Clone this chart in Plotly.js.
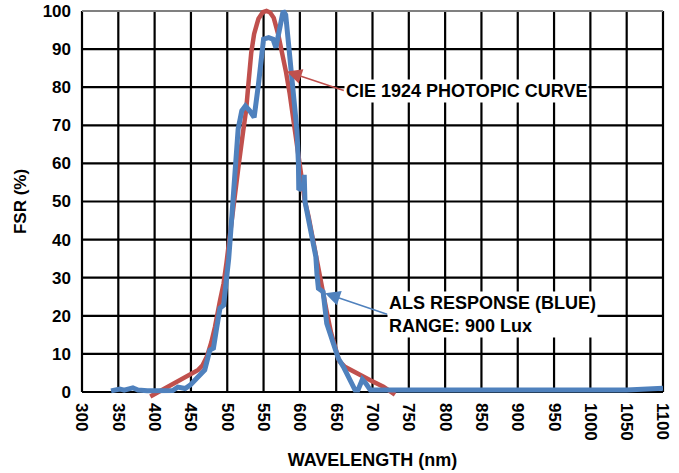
<!DOCTYPE html>
<html>
<head>
<meta charset="utf-8">
<script src="https://cdn.plot.ly/plotly-3.0.1.min.js"></script>
<style>html,body{margin:0;padding:0;background:#fff;}#chart{width:679px;height:473px;}</style>
</head>
<body>
<div id="chart"></div>
<script>
// CIE 1924 photopic curve (red)
const cieX = [394, 460, 466, 472, 478, 483, 490, 495, 499, 504, 510, 516, 522, 526, 529, 533, 537, 543, 549, 554, 559, 564, 570, 577, 581, 586, 593, 598, 603, 607, 612, 616, 621, 625, 630, 637, 643, 649, 654, 662, 678, 697, 715, 731];
const cieY = [-1.2, 5.8, 7, 9.3, 13, 17, 24, 28.5, 34, 41, 50, 60, 68.6, 74, 80.5, 89, 94, 98, 99.7, 100, 99.6, 98.2, 94, 87.8, 83.9, 78.3, 68.6, 60.5, 54, 50, 46, 42, 36.5, 31.5, 27.6, 21, 15.5, 11, 8.2, 6.6, 4.9, 3.1, 1.4, -0.7];
// ALS response (blue)
const alsX = [340, 346, 352, 358, 364, 370, 377, 390, 425, 432, 442, 449, 458, 469, 476, 481, 485, 490, 495, 499, 502, 504, 508, 512, 515, 520, 525, 531, 537, 543, 550, 557, 563, 567, 573, 577, 580.5, 584, 589, 593, 596, 598, 598.5, 605, 606, 607, 612, 617, 622, 623.5, 625.5, 632, 637, 646, 653, 660, 667, 676, 680, 686, 691, 697, 1050, 1100];
const alsY = [0.3, 0.6, 0.8, 0.5, 0.8, 1.1, 0.5, 0.3, 0.4, 1.3, 0.9, 1.8, 3.6, 5.8, 11, 11.5, 16.3, 22, 22.8, 28.5, 35, 40, 50, 60, 69, 73.8, 75.1, 73.8, 72.1, 80.8, 92.6, 93, 92.6, 90.4, 95.6, 100, 99, 92, 84, 76.4, 68.6, 60, 53, 54, 57, 50, 45, 40, 35.5, 31, 27.2, 26.3, 18, 12.8, 8.8, 6.6, 3.6, 0.5, 0.5, 3.3, 2.2, 0.5, 0.5, 1];
// Ticks
const xTicks = [300, 350, 400, 450, 500, 550, 600, 650, 700, 750, 800, 850, 900, 950, 1000, 1050, 1100];
const yTicks = [0, 10, 20, 30, 40, 50, 60, 70, 80, 90, 100];
const xTitle = 'WAVELENGTH (nm)';
const yTitle = 'FSR (%)';
const cieLabel = 'CIE 1924 PHOTOPIC CURVE';
const alsLabel = 'ALS RESPONSE (BLUE)<br>RANGE: 900 Lux';

const RED = '#C0504D', BLUE = '#4F81BD';
const FONT = 'Liberation Sans, Arial, Helvetica, sans-serif';

const shapes = [];
xTicks.forEach(v => shapes.push({type:'line', xref:'x', yref:'y', x0:v, x1:v, y0:yTicks[0], y1:yTicks[yTicks.length-1], line:{color:'#000', width:2.2}, layer:'below'}));
yTicks.forEach((v,i) => shapes.push({type:'line', xref:'x', yref:'y', x0:xTicks[0], x1:xTicks[xTicks.length-1], y0:v, y1:v, line:{color: i === yTicks.length-1 ? '#808080' : '#000', width:2.2}, layer:'below'}));

const traces = [
  {x: cieX, y: cieY, type:'scatter', mode:'lines', line:{color:RED, width:4.5}, name:'CIE', hoverinfo:'skip'},
  {x: alsX, y: alsY, type:'scatter', mode:'lines', line:{color:BLUE, width:5}, name:'ALS', hoverinfo:'skip'}
];

const layout = {
  width: 679, height: 473,
  margin: {l:80, r:14, t:3, b:73, pad:0},
  paper_bgcolor:'#fff', plot_bgcolor:'#fff',
  showlegend:false,
  font:{family:FONT, color:'#000'},
  xaxis:{
    range:[297.25, 1102.75], tickmode:'array', tickvals:xTicks, ticktext:xTicks.map(String),
    tickangle:90, showgrid:false, zeroline:false, showline:false, ticks:'',
    tickfont:{family:FONT, size:17, color:'#000', weight:'bold'},
    ticklabelstandoff: 2,
    title:{text:xTitle, font:{family:FONT, size:18, color:'#000', weight:'bold'}, standoff:13}
  },
  yaxis:{
    range:[-2.1, 102.1], tickmode:'array', tickvals:yTicks, ticktext:yTicks.map(String),
    showgrid:false, zeroline:false, showline:false, ticks:'',
    tickfont:{family:FONT, size:17, color:'#000', weight:'bold'},
    ticklabelstandoff: 8,
    title:{text:yTitle, font:{family:FONT, size:17, color:'#000', weight:'bold'}, standoff:11}
  },
  shapes: shapes,
  annotations:[
    {x:582, y:84.1, xref:'x', yref:'y', text:cieLabel, showarrow:true, ax:57, ay:19, xanchor:'left',
     arrowhead:2, arrowsize:2, arrowwidth:1.5, arrowcolor:RED, bgcolor:'#fff',
     font:{family:FONT, size:18, color:'#000', weight:'bold'}, align:'left'},
    {x:634.7, y:25.9, xref:'x', yref:'y', text:alsLabel, showarrow:true, ax:62, ay:21, xanchor:'left',
     arrowhead:2, arrowsize:2, arrowwidth:1.5, arrowcolor:BLUE, bgcolor:'#fff',
     font:{family:FONT, size:18, color:'#000', weight:'bold'}, align:'left'}
  ]
};

Plotly.newPlot('chart', traces, layout, {displayModeBar:false, staticPlot:true});
</script>
</body>
</html>
